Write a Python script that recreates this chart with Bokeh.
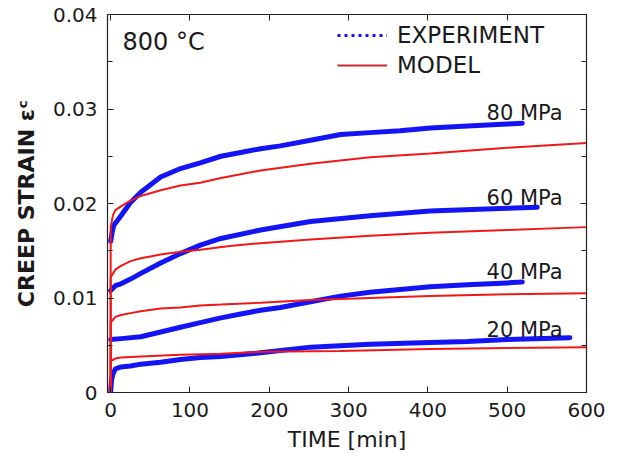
from bokeh.plotting import figure
from bokeh.models import (Range1d, LinearAxis, SingleIntervalTicker, CustomJSTickFormatter,
                          Label, Legend, LegendItem)
from bokeh.embed import file_html
from bokeh.resources import INLINE

# ---------------- data ----------------
exp_t_80 = [0, 2, 4, 13, 25, 38, 63, 88, 113, 139, 164, 189, 214, 252, 290, 327, 365, 403, 450, 500, 519]
exp_80 = [0.0160, 0.0170, 0.0177, 0.0187, 0.0201, 0.0212, 0.0228, 0.0237, 0.0243, 0.0250, 0.0254,
          0.0258, 0.0261, 0.0267, 0.0273, 0.0275, 0.0277, 0.0280, 0.0282, 0.0284, 0.0285]
mod_t_80 = [0, 0, 3, 6, 13, 25, 38, 63, 88, 113, 139, 164, 189, 252, 327, 403, 500, 600]
mod_80 = [0, 0.0175, 0.0188, 0.0193, 0.0197, 0.0203, 0.0208, 0.0214, 0.0219, 0.0222, 0.0227,
          0.0231, 0.0235, 0.0242, 0.0249, 0.0253, 0.0259, 0.0264]

exp_t_60 = [0, 6, 13, 25, 38, 63, 88, 113, 139, 189, 252, 327, 403, 500, 538]
exp_60 = [0.0108, 0.0113, 0.0115, 0.0120, 0.0126, 0.0137, 0.0147, 0.0156, 0.0163, 0.0172,
          0.0181, 0.0187, 0.0192, 0.0195, 0.0196]
mod_t_60 = [0, 0, 6, 13, 25, 38, 63, 88, 113, 150, 189, 252, 327, 403, 500, 600]
mod_60 = [0, 0.0122, 0.0130, 0.0134, 0.0139, 0.0142, 0.0146, 0.0149, 0.0151, 0.0155, 0.0158,
          0.0162, 0.0166, 0.0169, 0.0172, 0.0175]

exp_t_40 = [0, 13, 38, 63, 88, 113, 139, 164, 189, 214, 252, 290, 327, 365, 403, 450, 500, 519]
exp_40 = [0.0056, 0.0057, 0.0059, 0.0064, 0.0069, 0.0074, 0.0079, 0.0083, 0.0087, 0.0090,
          0.0096, 0.0102, 0.0106, 0.0109, 0.0112, 0.0114, 0.0116, 0.0117]
mod_t_40 = [0, 0, 6, 13, 25, 38, 63, 88, 113, 139, 189, 252, 327, 403, 500, 600]
mod_40 = [0, 0.0074, 0.0080, 0.0082, 0.0084, 0.0086, 0.0089, 0.0090, 0.0092, 0.0093, 0.0095,
          0.0098, 0.0100, 0.0102, 0.0104, 0.0105]

exp_t_20 = [0, 1, 3, 6, 13, 25, 38, 63, 88, 113, 139, 189, 252, 327, 403, 450, 500, 579]
exp_20 = [0, 0.0013, 0.0020, 0.0025, 0.0027, 0.0028, 0.0030, 0.0032, 0.0035, 0.0037, 0.0038,
          0.0042, 0.0048, 0.0051, 0.0053, 0.0054, 0.0056, 0.0058]
mod_t_20 = [0, 0, 6, 13, 38, 88, 139, 189, 290, 403, 500, 600]
mod_20 = [0, 0.0033, 0.0036, 0.0037, 0.0038, 0.0040, 0.0041, 0.0043, 0.0044, 0.0046, 0.0047, 0.0048]

stress_labels = ["80 MPa", "60 MPa", "40 MPa", "20 MPa"]
x_ticks_interval = 100
y_ticks_interval = 0.01

# ---------------- styling ----------------
FONT = "DejaVu Sans"
TXT = "#1a1a1a"
BLUE = "#1414f5"
RED = "#f01818"

p = figure(width=613, height=456, output_backend="svg", toolbar_location=None,
           x_range=Range1d(-4, 600), y_range=Range1d(0, 0.04),
           min_border_left=107, min_border_top=14, min_border_right=27, min_border_bottom=64,
           x_axis_location="below", y_axis_location="left")
p.background_fill_color = "white"
p.border_fill_color = "white"
p.outline_line_color = "#222222"
p.outline_line_width = 1.2
p.xgrid.visible = False
p.ygrid.visible = False

xt = SingleIntervalTicker(interval=x_ticks_interval, num_minor_ticks=0)
yt = SingleIntervalTicker(interval=y_ticks_interval, num_minor_ticks=2)
yfmt = CustomJSTickFormatter(code="return Math.abs(tick) < 1e-9 ? '0' : tick.toFixed(2);")
blank_fmt = CustomJSTickFormatter(code="return '';")

def style_axis(ax, ticker, show_labels):
    ax.ticker = ticker
    ax.axis_line_color = "#222222"
    ax.major_tick_in = 6
    ax.major_tick_out = 0
    ax.minor_tick_in = 5
    ax.minor_tick_out = 0
    ax.major_tick_line_color = "#222222"
    ax.minor_tick_line_color = "#222222"
    ax.major_label_text_font = FONT
    ax.major_label_text_color = TXT
    if show_labels:
        ax.major_label_text_font_size = "20px"
        ax.major_label_standoff = 10
    else:
        ax.formatter = blank_fmt
        ax.major_label_text_font_size = "1px"
        ax.major_label_standoff = 0

style_axis(p.xaxis[0], xt, True)
style_axis(p.yaxis[0], yt, True)
p.yaxis[0].formatter = yfmt
p.xaxis[0].axis_label = "TIME [min]"
p.yaxis[0].axis_label = "CREEP STRAIN \u03b5\u1d9c"
for ax in (p.xaxis[0], p.yaxis[0]):
    ax.axis_label_text_font = FONT
    ax.axis_label_text_color = TXT
    ax.axis_label_text_font_style = "normal"
p.xaxis[0].axis_label_text_font_size = "22px"
p.xaxis[0].axis_label_standoff = 7
p.yaxis[0].axis_label_text_font_size = "22px"
p.yaxis[0].axis_label_text_font_style = "bold"
p.yaxis[0].axis_label_standoff = 11

top_ax = LinearAxis()
style_axis(top_ax, SingleIntervalTicker(interval=x_ticks_interval, num_minor_ticks=0), False)
p.add_layout(top_ax, "above")
right_ax = LinearAxis()
style_axis(right_ax, SingleIntervalTicker(interval=y_ticks_interval, num_minor_ticks=2), False)
p.add_layout(right_ax, "right")

# ---------------- curves ----------------
series = [(exp_t_80, exp_80, mod_t_80, mod_80),
          (exp_t_60, exp_60, mod_t_60, mod_60),
          (exp_t_40, exp_40, mod_t_40, mod_40),
          (exp_t_20, exp_20, mod_t_20, mod_20)]
for et, ev, mt, mv in series:
    p.line(et, ev, line_color=BLUE, line_width=5, line_join="round", line_cap="round")
for et, ev, mt, mv in series:
    p.line(mt, mv, line_color=RED, line_width=2)

# legend-only renderers (a single NaN point: nothing drawn in the plot)
nan = float("nan")
leg_exp = p.line([nan], [nan], line_color=BLUE, line_width=3, line_dash="3 4")
leg_mod = p.line([nan], [nan], line_color="#cc2a2a", line_width=2)
legend = Legend(items=[LegendItem(label="EXPERIMENT", renderers=[leg_exp]),
                       LegendItem(label="MODEL", renderers=[leg_mod])],
                location=(230, 314), orientation="vertical")
legend.border_line_color = None
legend.background_fill_alpha = 0
legend.padding = 0
legend.margin = 0
legend.spacing = 4
legend.glyph_width = 50
legend.glyph_height = 26
legend.label_height = 26
legend.label_standoff = 10
legend.label_text_font = FONT
legend.label_text_font_size = "23px"
legend.label_text_color = TXT
p.add_layout(legend, "center")

# ---------------- texts ----------------
p.add_layout(Label(x=15, y=0.0371, text="800 \u00b0C", text_font=FONT, text_font_size="24px",
                   text_color=TXT, text_baseline="alphabetic", text_align="left"))
label_y = [0.0296, 0.0206, 0.0127, 0.0066]
for txt, ly in zip(stress_labels, label_y):
    p.add_layout(Label(x=570, y=ly, text=txt, text_font=FONT, text_font_size="21px",
                       text_color=TXT, text_baseline="alphabetic", text_align="right"))

open("out.html", "w").write(file_html(p, INLINE))
